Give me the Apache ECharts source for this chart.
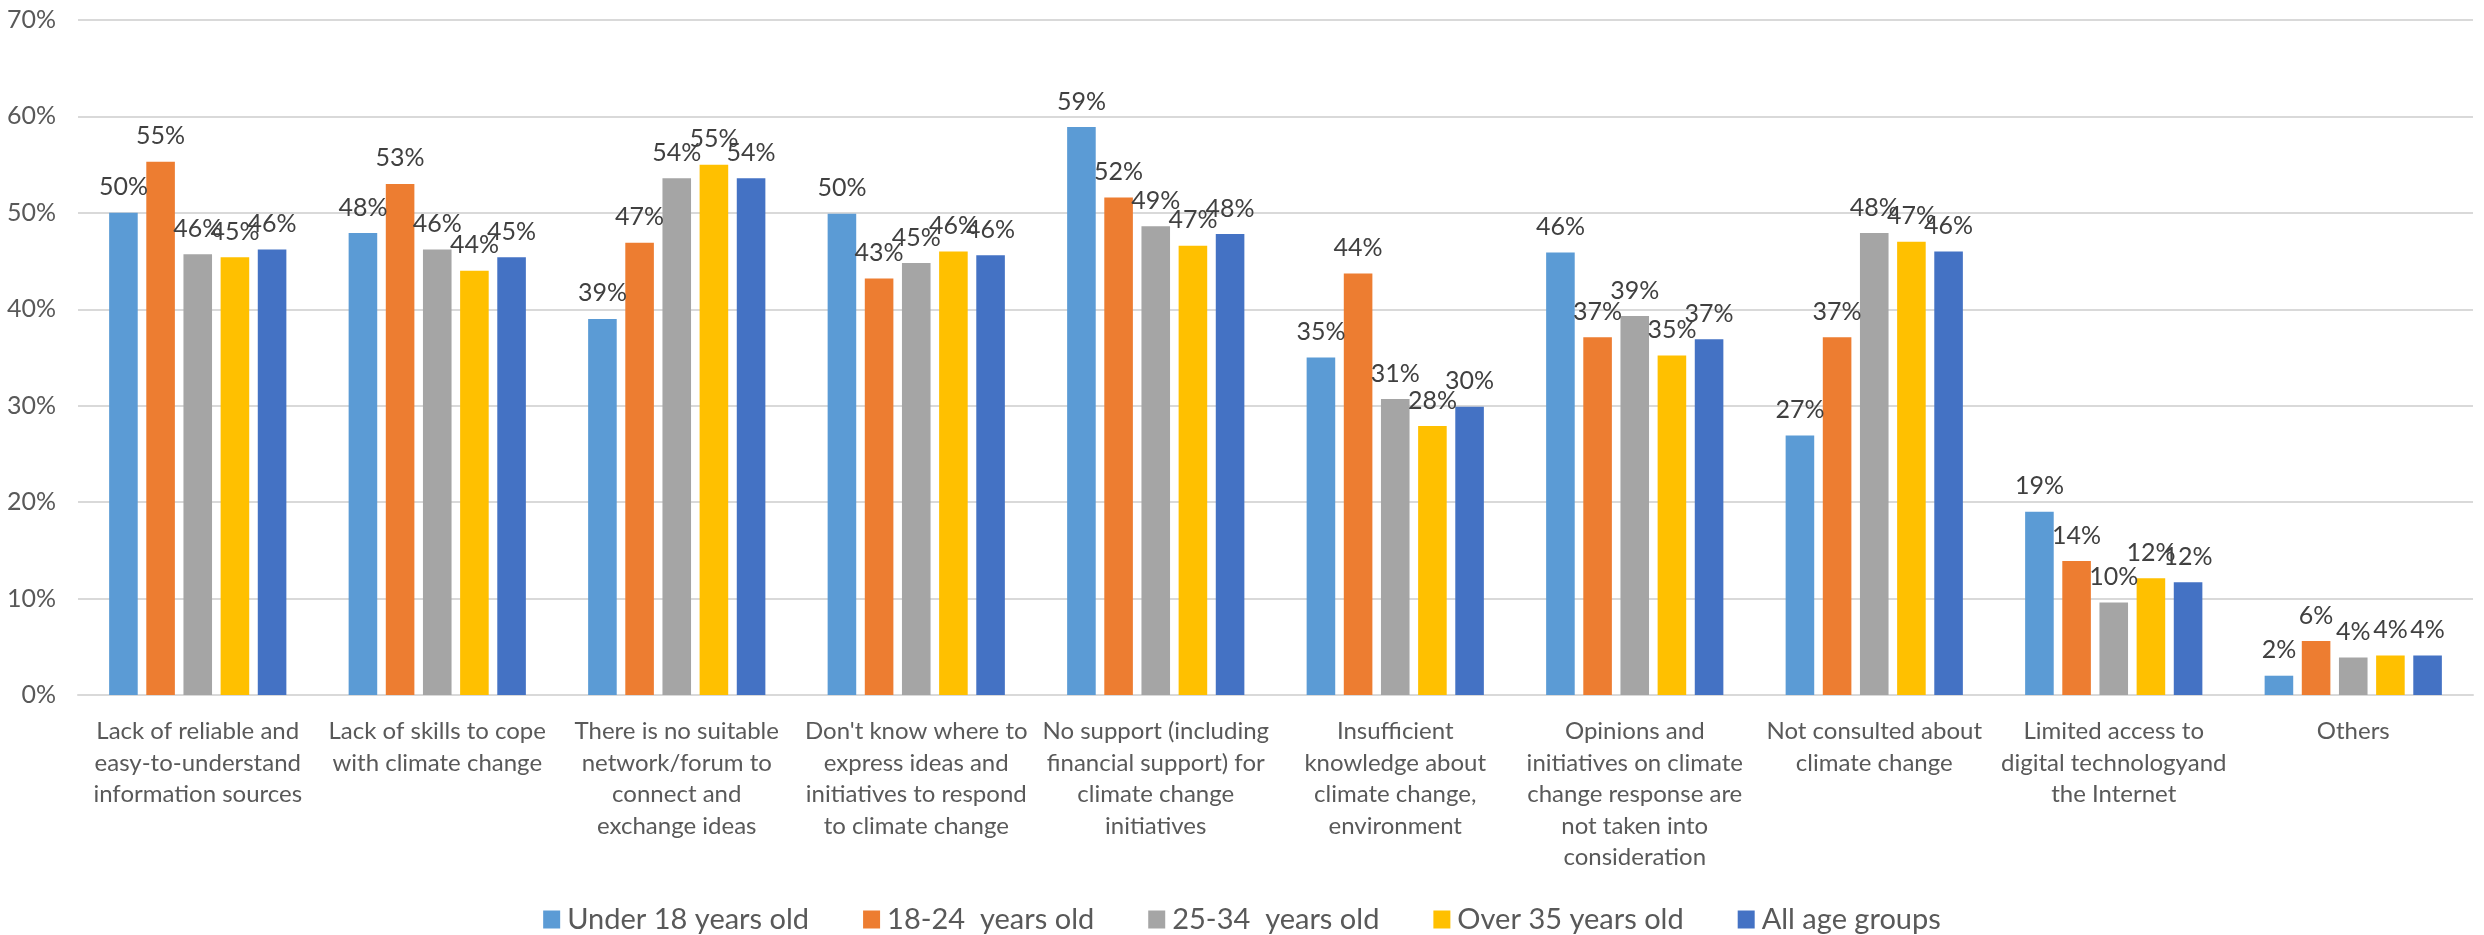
<!DOCTYPE html>
<html>
<head>
<meta charset="utf-8">
<script src="https://cdn.jsdelivr.net/npm/echarts@6/dist/echarts.min.js"></script>
<style>
html,body{margin:0;padding:0;background:#fff;}
#chart{width:2484px;height:935px;}
</style>
</head>
<body>
<div id="chart"></div>
<script>
const categories = [
  "Lack of reliable and\neasy-to-understand\ninformation sources",
  "Lack of skills to cope\nwith climate change",
  "There is no suitable\nnetwork/forum to\nconnect and\nexchange ideas",
  "Don't know where to\nexpress ideas and\ninitiatives to respond\nto climate change",
  "No support (including\nfinancial support) for\nclimate change\ninitiatives",
  "Insufficient\nknowledge about\nclimate change,\nenvironment",
  "Opinions and\ninitiatives on climate\nchange response are\nnot taken into\nconsideration",
  "Not consulted about\nclimate change",
  "Limited access to\ndigital technologyand\nthe Internet",
  "Others"
];
const seriesNames = ["Under 18 years old", "18-24  years old", "25-34  years old", "Over 35 years old", "All age groups"];
const under18 = [50.0, 47.9, 39.0, 49.9, 58.9, 35.0, 45.9, 26.9, 19.0, 2.0];
const age18to24 = [55.3, 53.0, 46.9, 43.2, 51.6, 43.7, 37.1, 37.1, 13.9, 5.6];
const age25to34 = [45.7, 46.2, 53.6, 44.8, 48.6, 30.7, 39.3, 47.9, 9.6, 3.9];
const over35 = [45.4, 44.0, 55.0, 46.0, 46.6, 27.9, 35.2, 47.0, 12.1, 4.1];
const allAges = [46.2, 45.4, 53.6, 45.6, 47.8, 29.9, 36.9, 46.0, 11.7, 4.1];
const yTicks = [0, 10, 20, 30, 40, 50, 60, 70];

const colors = ["#5B9BD5", "#ED7D31", "#A5A5A5", "#FFC000", "#4472C4"];
const FONT = "Lato, 'Liberation Sans', sans-serif";
const values = [under18, age18to24, age25to34, over35, allAges];

const chart = echarts.init(document.getElementById('chart'), null, {renderer: 'canvas'});
chart.setOption({
  animation: false,
  color: colors,
  textStyle: {fontFamily: FONT},
  grid: {left: 78, right: 11, top: 20, bottom: 240, containLabel: false},
  legend: {
    top: 900,
    left: 'center',
    itemWidth: 17,
    itemHeight: 18,
    itemGap: 54,
    icon: 'rect',
    textStyle: {fontFamily: FONT, fontSize: 29, color: '#595959', padding: [0, 0, 0, 2]},
    data: seriesNames
  },
  xAxis: {
    type: 'category',
    data: categories,
    axisLine: {lineStyle: {color: '#D9D9D9', width: 2}},
    axisTick: {show: false},
    axisLabel: {
      interval: 0,
      margin: 21,
      fontFamily: FONT,
      fontSize: 24,
      lineHeight: 31.5,
      color: '#595959',
      align: 'center',
      verticalAlign: 'top'
    }
  },
  yAxis: {
    type: 'value',
    min: yTicks[0],
    max: yTicks[yTicks.length - 1],
    interval: 10,
    axisLine: {show: false},
    axisTick: {show: false},
    splitLine: {lineStyle: {color: '#D9D9D9', width: 2}},
    axisLabel: {
      margin: 22,
      fontFamily: FONT,
      fontSize: 25,
      color: '#595959',
      formatter: v => v + '%'
    }
  },
  series: seriesNames.map((name, i) => ({
    name: name,
    type: 'bar',
    data: values[i],
    barGap: '30%',
    barCategoryGap: '26%',
    itemStyle: {color: colors[i]},
    label: {
      show: true,
      position: 'top',
      distance: 13,
      fontFamily: FONT,
      fontSize: 25,
      color: '#404040',
      formatter: p => Math.round(p.value) + '%'
    }
  }))
});
</script>
</body>
</html>
